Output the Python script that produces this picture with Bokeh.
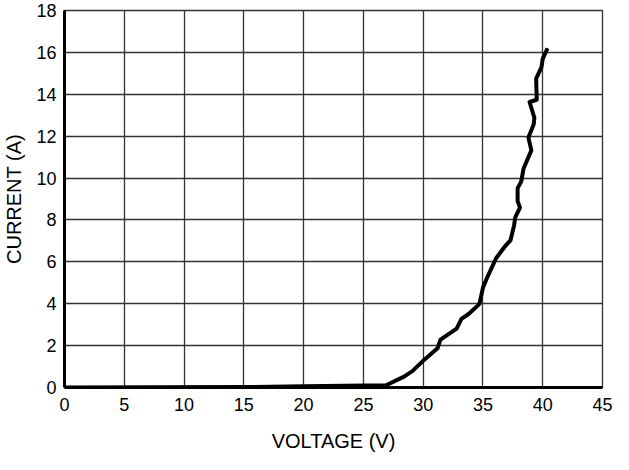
from bokeh.plotting import figure
from bokeh.models import Range1d, FixedTicker
from bokeh.embed import file_html
from bokeh.resources import INLINE

voltage = [0, 15, 20, 26.9, 28.4, 29.1, 30.1, 31.2, 31.45, 32.8, 33.2, 33.8, 34.7, 35.0,
           35.4, 36.1, 36.8, 37.3, 37.6, 37.7, 38.1, 37.9, 37.9, 38.2, 38.4, 39.05,
           38.8, 39.25, 39.3, 38.9, 39.5, 39.45, 39.9, 40.0, 40.4]
current = [0, 0.02, 0.06, 0.11, 0.52, 0.78, 1.33, 1.87, 2.29, 2.81, 3.28, 3.51, 3.98, 4.76,
           5.31, 6.17, 6.71, 7.02, 7.73, 8.12, 8.59, 8.9, 9.52, 9.83, 10.46, 11.32,
           11.94, 12.57, 12.88, 13.63, 13.74, 14.75, 15.3, 15.69, 16.2]

x_ticks = [0, 5, 10, 15, 20, 25, 30, 35, 40, 45]
y_ticks = [0, 2, 4, 6, 8, 10, 12, 14, 16, 18]

FONT = "Liberation Sans"

p = figure(width=613, height=454, output_backend="svg", toolbar_location=None,
           x_range=Range1d(0, 45), y_range=Range1d(0, 18),
           min_border_left=56, min_border_right=11, min_border_top=10, min_border_bottom=64)

p.line(voltage, current, line_color="black", line_width=4, line_join="round")

for ax in (p.xaxis[0], p.yaxis[0]):
    ax.axis_line_color = "black"
    ax.axis_line_width = 3
    ax.major_tick_out = 0
    ax.major_tick_in = 0
    ax.minor_tick_out = 0
    ax.minor_tick_in = 0
    ax.major_label_text_font = FONT
    ax.major_label_text_font_size = "18px"
    ax.major_label_text_color = "black"
    ax.axis_label_text_font = FONT
    ax.axis_label_text_font_size = "20px"
    ax.axis_label_text_font_style = "normal"
    ax.axis_label_text_color = "black"

p.xaxis.ticker = FixedTicker(ticks=x_ticks)
p.yaxis.ticker = FixedTicker(ticks=y_ticks)
p.xaxis.axis_label = "VOLTAGE (V)"
p.yaxis.axis_label = "CURRENT (A)"
p.xaxis.major_label_standoff = 10
p.yaxis.major_label_standoff = 8
p.xaxis.axis_label_standoff = 16
p.yaxis.axis_label_standoff = 8

for g in (p.xgrid[0], p.ygrid[0]):
    g.grid_line_color = "#333333"
    g.grid_line_width = 1.3
p.xgrid.ticker = FixedTicker(ticks=x_ticks)
p.ygrid.ticker = FixedTicker(ticks=y_ticks)

p.outline_line_color = "#333333"
p.outline_line_width = 1.3
p.background_fill_color = "white"
p.border_fill_color = "white"

open("out.html", "w").write(file_html(p, INLINE))
